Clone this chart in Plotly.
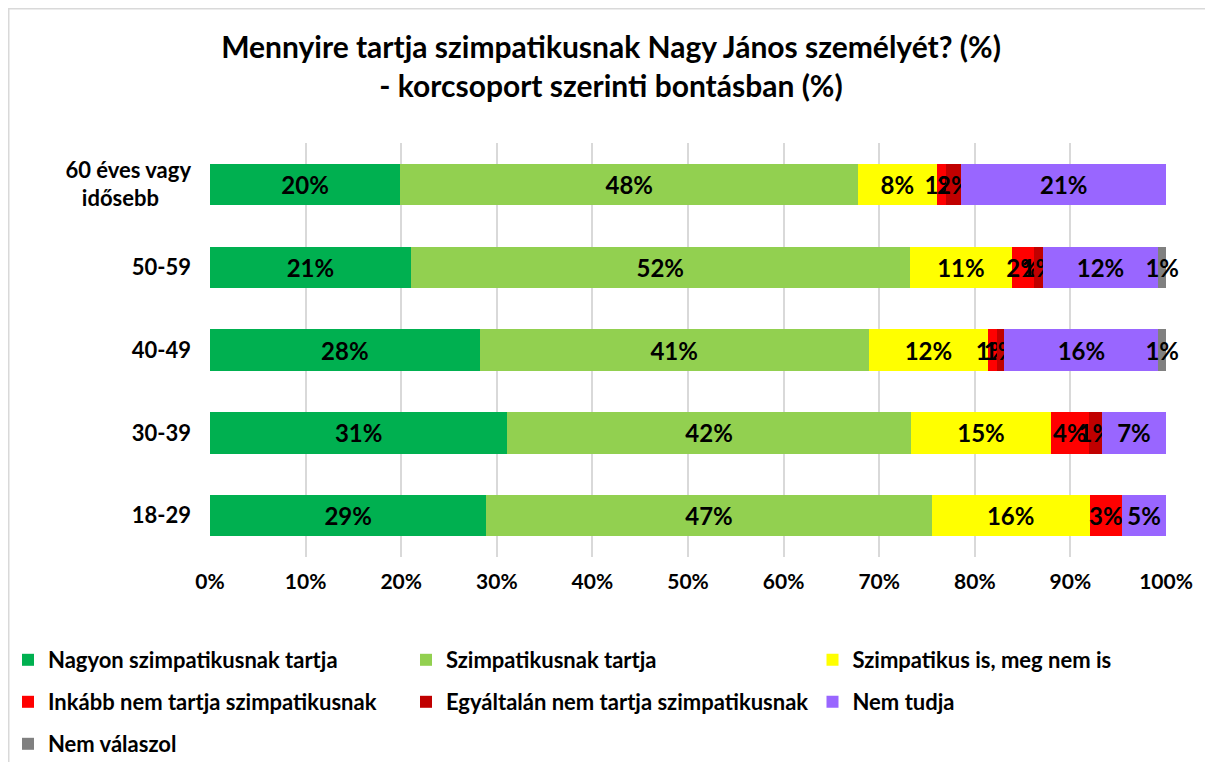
import plotly.graph_objects as go

NB = "\u00a0"
categories = ["60 éves vagy<br>idősebb" + NB * 6, "50-59", "40-49", "30-39", "18-29"]
series_names = [
    "Nagyon szimpatikusnak tartja",
    "Szimpatikusnak tartja",
    "Szimpatikus is, meg nem is",
    "Inkább nem tartja szimpatikusnak",
    "Egyáltalán nem tartja szimpatikusnak",
    "Nem tudja",
    "Nem válaszol",
]
nagyon = [19.9, 21.0, 28.2, 31.1, 28.9]
szimpatikus = [47.9, 52.2, 40.7, 42.2, 46.6]
is_meg_nem = [8.2, 10.7, 12.5, 14.7, 16.5]
inkabb_nem = [1.0, 2.3, 0.9, 3.9, 3.4]
egyaltalan_nem = [1.6, 0.9, 0.8, 1.4, 0.0]
nem_tudja = [21.4, 12.1, 16.1, 6.7, 4.6]
nem_valaszol = [0.0, 0.8, 0.8, 0.0, 0.0]
tick_vals = [0, 10, 20, 30, 40, 50, 60, 70, 80, 90, 100]
tick_text = ["0%", "10%", "20%", "30%", "40%", "50%", "60%", "70%", "80%", "90%", "100%"]

series = [nagyon, szimpatikus, is_meg_nem, inkabb_nem, egyaltalan_nem, nem_tudja, nem_valaszol]
colors = ["#00B050", "#92D050", "#FFFF00", "#FF0000", "#C00000", "#9966FF", "#808080"]

FONT = "Lato"
W, H = 1205, 754          # page has an 8px body margin
L, R, T, B = 202, 47, 135, 205
pw, ph = W - L - R, H - T - B

# legend slots (figure pixels): column x, row y
leg_x = [-8, 398, 804.5]
leg_y = [652, 694, 736]
slots = [(0, 0), (1, 0), (2, 0), (0, 1), (1, 1), (2, 1), (0, 2)]

fig = go.Figure()
legends = {}
for i, (name, vals, col) in enumerate(zip(series_names, series, colors)):
    lid = "legend" if i == 0 else f"legend{i + 1}"
    fig.add_trace(go.Bar(
        y=categories, x=vals, name=name, orientation="h",
        marker=dict(color=col, line=dict(width=0)),
        text=[f"{v:.0f}%" if v > 0 else "" for v in vals],
        textposition="inside", insidetextanchor="middle",
        constraintext="none", textangle=0, cliponaxis=False,
        textfont=dict(family=FONT, size=24, color="black", weight="bold"),
        legend=lid, hoverinfo="skip",
    ))
    cx, ry = slots[i]
    legends[lid] = dict(
        orientation="h", xref="container", yref="container",
        x=leg_x[cx] / W, y=1 - leg_y[ry] / H,
        xanchor="left", yanchor="middle",
        font=dict(family=FONT, size=22, color="black", weight="bold"),
        itemwidth=30, bgcolor="rgba(0,0,0,0)",
    )

def px_x(p):
    return (p - L) / pw

def px_y(p):
    return (H - B - p) / ph

fig.update_layout(
    width=W, height=H,
    barmode="stack", bargap=0.5,
    margin=dict(l=L, r=R, t=T, b=B),
    paper_bgcolor="white", plot_bgcolor="white",
    title=dict(
        text="<b>Mennyire tartja szimpatikusnak Nagy János személyét? (%)<br>- korcsoport szerinti bontásban (%)</b>",
        x=603 / W, xanchor="center", xref="container",
        y=1 - 50 / H, yanchor="middle", yref="container",
        font=dict(family=FONT, size=30, color="black"),
    ),
    xaxis=dict(
        range=[0, 100.0001], tickvals=tick_vals, ticktext=tick_text,
        showgrid=True, gridcolor="#d9d9d9", gridwidth=2, zeroline=False,
        showline=False, ticks="", ticklabelstandoff=10,
        tickfont=dict(family=FONT, size=21, color="black", weight="bold"),
    ),
    yaxis=dict(
        autorange="reversed", showgrid=False, zeroline=False, showline=False,
        ticks="", ticklabelstandoff=18,
        tickfont=dict(family=FONT, size=22, color="black", weight="bold"),
    ),
    showlegend=True,
    **legends,
)

fig.add_shape(
    type="rect", xref="paper", yref="paper",
    x0=px_x(0), x1=px_x(1240), y0=px_y(790), y1=px_y(0),
    line=dict(color="#d9d9d9", width=3), fillcolor="rgba(0,0,0,0)", layer="below",
)

fig.write_html("out.html")
